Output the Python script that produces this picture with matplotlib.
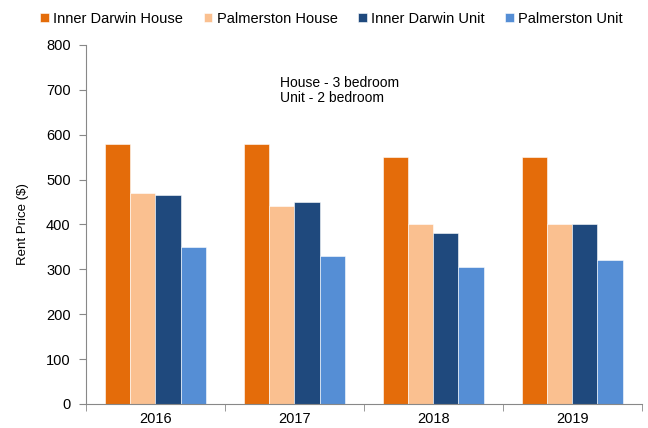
import numpy as np
import matplotlib.pyplot as plt

plt.rcParams['font.family'] = ['Liberation Sans', 'DejaVu Sans']

years = ['2016', '2017', '2018', '2019']
series = ['Inner Darwin House', 'Palmerston House', 'Inner Darwin Unit', 'Palmerston Unit']
inner_darwin_house = [580, 580, 550, 550]
palmerston_house = [470, 440, 400, 400]
inner_darwin_unit = [465, 450, 380, 400]
palmerston_unit = [350, 330, 305, 320]
colors = ['#E46C0A', '#FAC090', '#1F497D', '#558ED5']

values = [inner_darwin_house, palmerston_house, inner_darwin_unit, palmerston_unit]

fig = plt.figure(figsize=(6.48, 4.28), dpi=100)
ax = fig.add_axes([0.1327, 0.0561, 0.858, 0.839])

x = np.arange(len(years))
w = 0.18
for i, (name, vals, c) in enumerate(zip(series, values, colors)):
    ax.bar(x + (i - 1.5) * w, vals, w, color=c, label=name,
           edgecolor='white', linewidth=0.4)

ax.set_xlim(-0.5, 3.5)
ax.set_ylim(0, 800)
ax.set_yticks(range(0, 801, 100))
ax.set_xticks(x)
ax.set_xticklabels(years)
ax.set_xticks(np.arange(-0.5, 4, 1), minor=True)
ax.tick_params(axis='x', which='major', length=0, labelsize=10.5, pad=6)
ax.tick_params(axis='x', which='minor', length=5, color='#888888')
ax.tick_params(axis='y', length=5, color='#888888', labelsize=10.5, pad=6)
for s in ['top', 'right']:
    ax.spines[s].set_visible(False)
for s in ['left', 'bottom']:
    ax.spines[s].set_color('#888888')
ax.set_ylabel('Rent Price ($)', fontsize=9.5, labelpad=12)

ax.text(0.349, 0.912, 'House - 3 bedroom\nUnit - 2 bedroom', transform=ax.transAxes,
        fontsize=10, va='top', ha='left', linespacing=1.05)

fig.legend(*ax.get_legend_handles_labels(), loc='upper left',
           bbox_to_anchor=(0.062, 0.972), ncol=4, frameon=False,
           fontsize=10.5, handlelength=0.6, handleheight=0.6, handletextpad=0.3,
           columnspacing=1.4, borderaxespad=0, borderpad=0)

fig.savefig('out.png', dpi=100)
